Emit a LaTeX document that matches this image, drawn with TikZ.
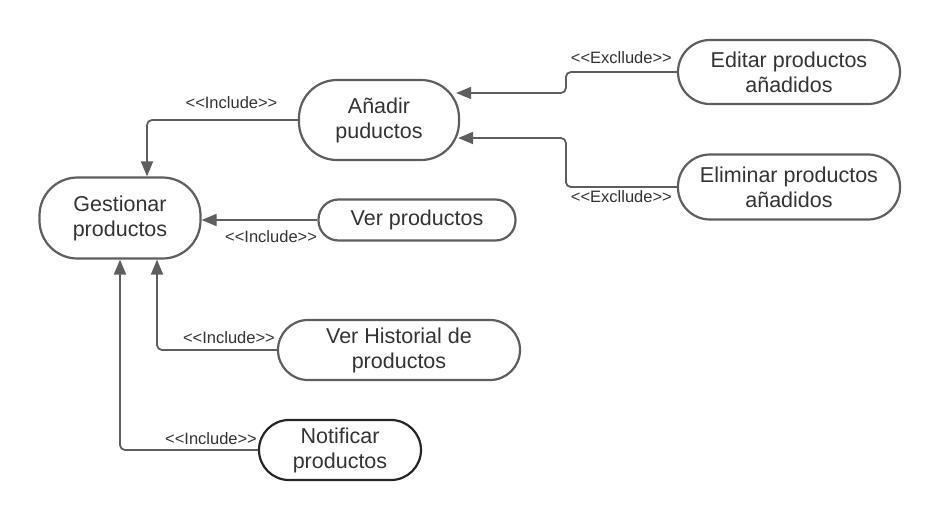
\documentclass[tikz,border=0pt]{standalone}
\usepackage{fontspec}
\setmainfont{Liberation Sans}
\usetikzlibrary{arrows.meta}
\definecolor{edgegray}{HTML}{5E5E5E}
\definecolor{textgray}{HTML}{333333}
\tikzset{usecase/.style={draw=edgegray, line width=2.2pt, rounded corners=30pt, align=center, text=textgray, font=\fontsize{21.5}{25}\selectfont, inner sep=0pt},
         rel/.style={draw=edgegray, line width=1.8pt, rounded corners=5pt, -{Triangle[length=15pt,width=12pt]}},
         stereo/.style={text=textgray, font=\fontsize{16.5}{19}\selectfont, inner sep=3pt}}

\begin{document}
\begin{tikzpicture}[x=1pt,y=-1pt]
                    \useasboundingbox (0,0) rectangle (940,520);
                    % casos de uso
                    \node[usecase, minimum width=161pt, minimum height=81pt, rounded corners=38pt] (gest) at (120,218) {Gestionar\\productos};
                    \node[usecase, minimum width=160pt, minimum height=80pt, rounded corners=38pt] (anadir) at (379,120) {Añadir\\puductos};
                    \node[usecase, minimum width=222pt, minimum height=64pt, rounded corners=32pt] (editar) at (789,72) {Editar productos\\añadidos};
                    \node[usecase, minimum width=222pt, minimum height=65pt, rounded corners=32pt] (elim) at (789,187) {Eliminar productos\\añadidos};
                    \node[usecase, minimum width=197pt, minimum height=41pt, rounded corners=20pt] (ver) at (417,220) {Ver productos};
                    \node[usecase, minimum width=242pt, minimum height=60pt] (hist) at (399,350) {Ver Historial de\\productos};
                    \node[usecase, draw=black!85, minimum width=162pt, minimum height=60pt] (notif) at (340,450) {Notificar\\productos};

                    % relaciones
                    \draw[rel] (anadir.west) -| node[stereo, pos=0.22, above, yshift=7pt] {<{}<Include>{}>} ([xshift=27pt]gest.north);
                    \draw[rel] (editar.west) -- node[stereo, midway, above, yshift=4pt] {<{}<Excllude>{}>} ++(-111,0) |- ([xshift=-4pt,yshift=27pt]anadir.east);
                    \draw[rel] (elim.west) -- node[stereo, midway, below] {<{}<Excllude>{}>} ++(-111,0) |- ([xshift=-2pt,yshift=-18pt]anadir.east);
                    \draw[rel] (ver.west) -- node[stereo, pos=0.4, below, yshift=-7pt] {<{}<Include>{}>} (ver.west -| gest.east);
                    \draw[rel] (hist.west) -| node[stereo, pos=0.2, above, yshift=2pt] {<{}<Include>{}>} ([xshift=37pt]gest.south);
                    \draw[rel] (notif.west) -| node[stereo, pos=0.17, above, yshift=1pt] {<{}<Include>{}>} (gest.south);
                \end{tikzpicture}
\end{document}
